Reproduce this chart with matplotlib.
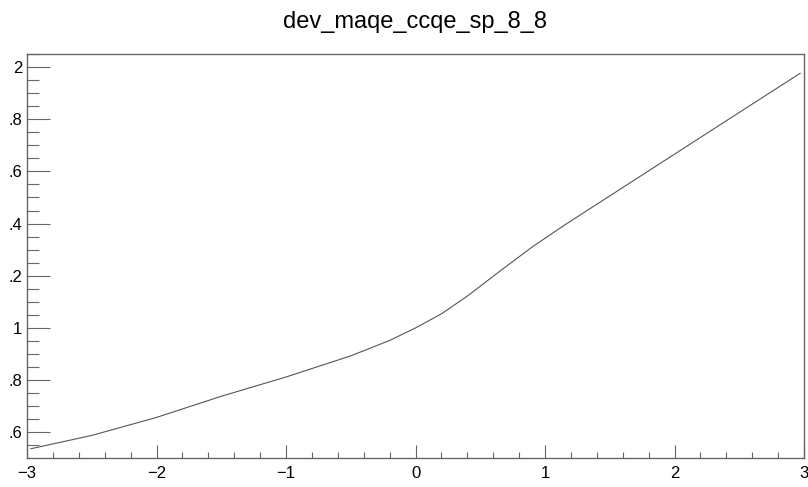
import matplotlib
matplotlib.use("Agg")
import matplotlib.pyplot as plt
from matplotlib.ticker import MultipleLocator, FixedLocator

# Data
x_vals = [-2.97, -2.5, -2.0, -1.5, -1.0, -0.5, -0.2, 0.0, 0.2, 0.4,
          0.65, 0.9, 1.15, 1.4, 2.0, 2.5, 2.97]
y_vals = [0.537, 0.588, 0.657, 0.738, 0.812, 0.893, 0.952, 1.0, 1.054, 1.122,
          1.217, 1.310, 1.394, 1.474, 1.666, 1.826, 1.976]

x_ticks = [-3, -2, -1, 0, 1, 2, 3]
x_tick_labels = ["\u22123", "\u22122", "\u22121", "0", "1", "2", "3"]
y_ticks = [2.0, 1.8, 1.6, 1.4, 1.2, 1.0, 0.8, 0.6]
y_tick_labels = ["2", ".8", ".6", ".4", ".2", "1", ".8", ".6"]
title = "dev_maqe_ccqe_sp_8_8"

plt.rcParams['font.family'] = ['Liberation Sans', 'DejaVu Sans']

fig = plt.figure(figsize=(8.08, 4.87), dpi=100)
ax = fig.add_axes([27/808, 1-458/487, (804-27)/808, (458-54)/487])

ax.plot(x_vals, y_vals, color='#555555', lw=0.8)

ax.set_xlim(-3, 3)
ax.set_ylim(0.5015, 2.05)

frame_c = '#666666'
for s in ax.spines.values():
    s.set_color(frame_c)
    s.set_linewidth(1.0)

ax.xaxis.set_major_locator(FixedLocator(x_ticks))
ax.set_xticklabels(x_tick_labels)
ax.xaxis.set_minor_locator(MultipleLocator(0.2))
ax.yaxis.set_major_locator(FixedLocator(y_ticks))
ax.set_yticklabels(y_tick_labels)
ax.yaxis.set_minor_locator(MultipleLocator(0.05))

ax.tick_params(axis='x', which='major', direction='in', length=9.1, width=0.8,
               color=frame_c, labelsize=12, pad=6)
ax.tick_params(axis='x', which='minor', direction='in', length=4.5, width=0.8,
               color=frame_c)
ax.tick_params(axis='y', which='major', direction='in', length=16.6, width=0.8,
               color=frame_c, labelsize=12, pad=3.6)
ax.tick_params(axis='y', which='minor', direction='in', length=8.4, width=0.8,
               color=frame_c)

ax.set_title(title, fontsize=17, pad=19)

fig.savefig("out.png", dpi=100)
